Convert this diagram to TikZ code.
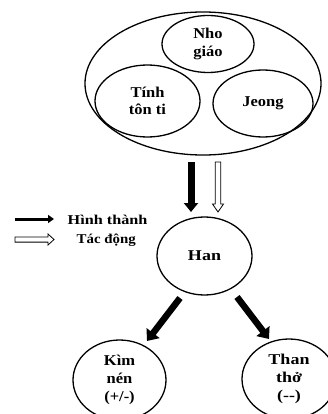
\documentclass[tikz,border=0pt]{standalone}
\usepackage{fontspec}
\setmainfont{Liberation Serif}
\newfontfamily\widef{Liberation Serif}[FakeStretch=1.1]
\newfontfamily\widerf{Liberation Serif}[FakeStretch=1.2]
\usetikzlibrary{shapes.geometric,arrows.meta,calc}
\tikzset{
  oval/.style={ellipse, draw, line width=1.3pt, inner sep=0pt, align=center,
    font=\fontsize{15}{17.5}\selectfont\bfseries\widef},
  lbl/.style={inner sep=0pt, anchor=west, font=\fontsize{13.5}{16}\selectfont\bfseries\widerf},
}
\newcommand\hollowarrow[5]{% start, end, shaft half, head half, head length
  \draw[line width=0.8pt, fill=white, line join=miter]
    let \p1=($(#2)-(#1)$), \n1={atan2(\y1,\x1)} in
    ($(#1)+(\n1+90:#3)$) -- ($(#2)+(\n1:-#5)+(\n1+90:#3)$) -- ($(#2)+(\n1:-#5)+(\n1+90:#4)$)
    -- (#2) -- ($(#2)+(\n1:-#5)+(\n1-90:#4)$) -- ($(#2)+(\n1:-#5)+(\n1-90:#3)$)
    -- ($(#1)+(\n1-90:#3)$) -- cycle;}
\begin{document}
\begin{tikzpicture}[x=1pt, y=-1pt]
\useasboundingbox (0,0) rectangle (328,414);
% top group
\node[oval, minimum width=236pt, minimum height=143pt] (big) at (203,83.5) {};
\node[oval, minimum width=92pt, minimum height=57pt] (nho) at (208,44) {Nho\\giáo};
\node[oval, minimum width=105pt, minimum height=72pt] (tinh) at (147.5,101) {Tính\\tôn ti};
\node[oval, minimum width=100pt, minimum height=67pt] (jeong) at (263,103.5) {Jeong};
% Han
\node[oval, minimum width=95pt, minimum height=78pt, font=\fontsize{15}{17.5}\selectfont\bfseries\widerf] (han) at (204.5,256) {Han};
% bottom
\node[oval, minimum width=93pt, minimum height=80pt, font=\fontsize{15}{18}\selectfont\bfseries\widef] (kim) at (119.5,380) {Kìm\\nén\\(+/-)};
\node[oval, minimum width=94pt, minimum height=80pt, font=\fontsize{15}{18}\selectfont\bfseries\widerf] (than) at (289,379) {Than\\thở\\(-{}-)};
% vertical arrows
\coordinate (b1) at (191,162);
\coordinate (b2) at (191,212);
\draw[line width=7pt, -{Triangle[width=14pt, length=9pt]}] (b1) -- (b2);
\coordinate (w1) at (218,162);
\coordinate (w2) at (218,212);
\hollowarrow{w1}{w2}{2.8pt}{5.5pt}{8pt}
% diagonal arrows
\coordinate (d1) at (180,298);
\coordinate (d2) at (147,341);
\coordinate (d3) at (237,297);
\coordinate (d4) at (269,339);
\draw[line width=6.5pt, -{Triangle[width=16pt, length=10pt]}] (d1) -- (d2);
\draw[line width=6.5pt, -{Triangle[width=16pt, length=10pt]}] (d3) -- (d4);
% legend
\coordinate (l1) at (15,219);
\coordinate (l2) at (54,219);
\draw[line width=3pt, -{Triangle[width=8pt, length=6pt]}] (l1) -- (l2);
\node[lbl] (t1) at (67.5,219.5) {Hình thành};
\coordinate (l3) at (15,239.5);
\coordinate (l4) at (54,239.5);
\hollowarrow{l3}{l4}{2.6pt}{5.5pt}{6pt}
\node[lbl, font=\fontsize{13.5}{16}\selectfont\bfseries\widef] (t2) at (76.5,240) {Tác động};
\end{tikzpicture}
\end{document}
